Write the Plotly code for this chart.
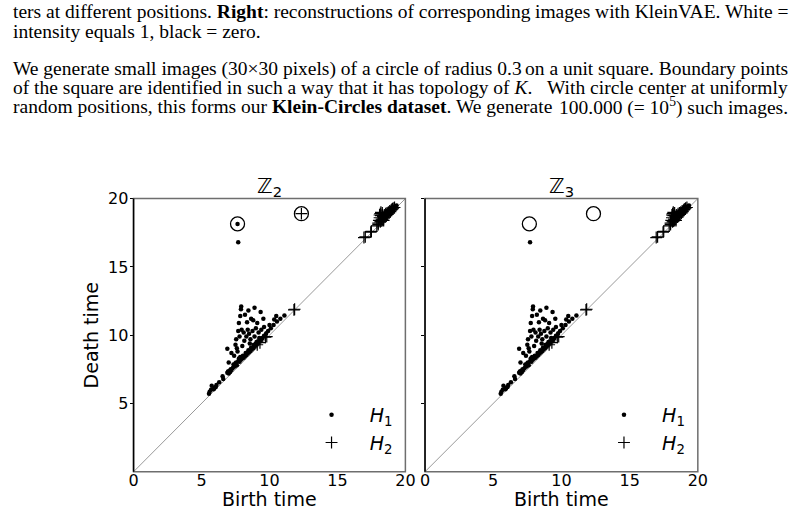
import plotly.graph_objects as go

# ---------------- data ----------------
h1_birth = [5.55,5.6,5.7,5.75,5.9,5.95,6.05,6.1,6.3,6.55,6.6,6.9,6.95,7.0,7.05,7.1,7.15,7.2,7.3,7.35,
            7.45,7.5,7.55,7.6,7.7,7.75,7.8,7.85,7.9,8.0,8.05,8.1,8.2,8.25,8.3,8.4,8.45,8.5,8.6,8.65,
            8.7,8.8,8.85,8.9,9.0,9.05,9.1,9.2,9.3,9.4,9.5,9.6,9.75,9.9,10.1,10.3,10.55,10.8,11.1,
            6.9,7.4,7.6,7.0,7.2,7.5,7.55,7.7,7.75,7.85,7.9,7.92,8.2,8.45,8.9,8.65,8.8,9.35,9.55,10.5,
            10.35,8.35,9.1,10.0,7.8,7.95,8.1,8.15,8.3,8.4,8.5,8.6,8.75,8.9,9.0,9.2,9.4,9.6,8.0,7.65,
            8.55,9.25,7.7,
            18.5,18.7,18.9,19.1,19.25,18.6,18.8,19.0,18.3,18.45,18.2,18.35,18.55,18.75,18.95,19.15,19.35,18.65,18.85,19.05]
h1_death = [5.72,5.85,6.0,6.3,6.05,6.15,6.2,6.35,6.55,7.0,6.8,7.25,7.35,7.2,7.4,7.3,7.5,7.45,7.6,7.85,
            7.7,7.95,8.0,7.8,8.1,8.3,8.05,8.4,8.2,8.3,8.5,8.35,8.45,8.7,8.55,8.65,8.9,8.75,8.85,9.1,
            8.95,9.05,9.3,9.15,9.25,9.5,9.35,9.45,9.6,9.65,9.8,9.95,10.1,10.3,10.5,10.75,11.0,11.2,11.45,
            9.0,8.5,9.05,8.0,8.7,9.3,9.7,10.3,10.9,11.4,11.9,12.1,11.5,11.8,12.0,11.2,11.1,11.7,11.2,11.4,
            11.15,10.95,10.9,10.75,9.9,10.4,10.2,9.6,9.9,10.4,10.1,9.7,10.3,9.9,10.5,10.2,10.4,10.6,9.2,8.8,
            9.4,9.8,16.8,
            18.7,18.95,19.2,19.35,19.4,18.9,19.05,19.25,18.55,18.85,18.45,18.7,18.95,19.1,19.3,19.4,19.5,18.8,19.1,19.35]

h2_birth = [9.1,9.3,9.8,9.7,11.8,11.85,16.95,17.05,17.45,17.5,18.0,18.05,18.1,18.15,18.2,18.25,18.3,18.35,
            18.4,18.45,18.5,18.55,18.6,18.65,18.7,18.75,18.8,18.85,18.9,18.95,19.0,19.05,19.1,19.2,18.2,18.3,18.4,
            18.1,18.2,18.0,18.3,18.15,17.9]
h2_death = [9.3,9.45,9.9,9.85,11.85,11.9,17.15,17.2,17.55,17.6,18.2,18.4,18.6,18.9,18.75,18.5,18.45,18.7,
            18.6,18.8,18.65,18.9,18.75,18.95,18.85,19.0,18.95,19.1,19.05,19.15,19.2,19.25,19.3,19.35,18.35,18.8,18.4,
            18.8,19.0,18.1,18.95,18.3,18.0]

# highlighted (most persistent) classes, circled in both panels
circ_birth = [7.65, 12.35]
circ_death = [18.15, 18.9]
# H1 point and H2 point present only for Z2
z2_extra_h1 = ([7.65], [18.15])
z2_extra_h2 = ([12.35], [18.9])

diag = [0, 20]
xticks = [0, 5, 10, 15, 20]
yticks = [5, 10, 15, 20]

# ---------------- figure ----------------
W, H = 804, 514
fig = go.Figure()

def px(x):
    return x / W
def py(y):
    return 1 - y / H

doms_x = [(px(131), px(408)), (px(428), px(706))]
dom_y = (py(471), py(193))

NB = '\u00a0\u00a0\u00a0'
for i in range(2):
    xa = 'x' if i == 0 else 'x2'
    ya = 'y' if i == 0 else 'y2'
    leg = 'legend' if i == 0 else 'legend2'
    fig.add_trace(go.Scatter(x=diag, y=diag, mode='lines', line=dict(color='#999999', width=1),
                             xaxis=xa, yaxis=ya, showlegend=False, hoverinfo='skip'))
    fig.add_trace(go.Scatter(x=circ_birth, y=circ_death, mode='markers',
                             marker=dict(symbol='circle-open', size=14, color='black', line=dict(width=1.3)),
                             xaxis=xa, yaxis=ya, showlegend=False))
    hb = list(h1_birth) + (z2_extra_h1[0] if i == 0 else [])
    hd = list(h1_death) + (z2_extra_h1[1] if i == 0 else [])
    fig.add_trace(go.Scatter(x=hb, y=hd, mode='markers', name=NB + '<i>H</i><sub>1</sub>',
                             marker=dict(symbol='circle', size=4.5, color='black'),
                             xaxis=xa, yaxis=ya, legend=leg))
    pb = list(h2_birth) + (z2_extra_h2[0] if i == 0 else [])
    pd_ = list(h2_death) + (z2_extra_h2[1] if i == 0 else [])
    fig.add_trace(go.Scatter(x=pb, y=pd_, mode='markers', name=NB + '<i>H</i><sub>2</sub>',
                             marker=dict(symbol='cross-thin', size=8.5, color='black',
                                         line=dict(width=1.2, color='black')),
                             xaxis=xa, yaxis=ya, legend=leg))

def axis_common(vals, standoff, ticks):
    return dict(range=[0, 20], tickvals=vals, showgrid=False, zeroline=False, showline=False,
                ticks=ticks, ticklen=3, tickcolor='black', ticklabelstandoff=standoff,
                tickfont=dict(family='DejaVu Sans', size=16, color='black'))

title_font = dict(family='DejaVu Sans', size=19, color='black')
leg_font = dict(family='DejaVu Sans', size=19, color='black')

fig.update_layout(
    width=W, height=H, margin=dict(l=0, r=0, t=0, b=0),
    plot_bgcolor='white', paper_bgcolor='white',
    xaxis=dict(domain=doms_x[0], anchor='y', **axis_common(xticks, -3, '')),
    yaxis=dict(domain=dom_y, anchor='x', **axis_common(yticks, -2, 'outside'),
               title=dict(text='Death time', font=title_font, standoff=4)),
    xaxis2=dict(domain=doms_x[1], anchor='y2', **axis_common(xticks, -3, '')),
    yaxis2=dict(domain=dom_y, anchor='x2', **axis_common(yticks, -2, 'outside'), showticklabels=False),
    legend=dict(x=px(400), y=py(461), xanchor='right', yanchor='bottom', bgcolor='rgba(0,0,0,0)',
                font=leg_font, itemwidth=30),
    legend2=dict(x=px(698), y=py(461), xanchor='right', yanchor='bottom', bgcolor='rgba(0,0,0,0)',
                 font=leg_font, itemwidth=30),
)

# frames: gray box + black left spine
for xr, yr in [('x domain', 'y domain'), ('x2 domain', 'y2 domain')]:
    fig.add_shape(type='rect', xref=xr, yref=yr, x0=0, x1=1, y0=0, y1=1,
                  line=dict(color='#6e6e6e', width=1.5), layer='above')
    fig.add_shape(type='line', xref=xr, yref=yr, x0=0, x1=0, y0=0, y1=1,
                  line=dict(color='black', width=1.5), layer='above')

# subplot titles and x-axis titles
for xd, sub in [(doms_x[0], '2'), (doms_x[1], '3')]:
    fig.add_annotation(text='\u2124<sub>' + sub + '</sub>', xref='paper', yref='paper',
                       x=(xd[0] + xd[1]) / 2, y=dom_y[1], yanchor='bottom', xanchor='center',
                       showarrow=False, yshift=-3,
                       font=dict(family='DejaVu Sans', size=21, color='black'))
    fig.add_annotation(text='Birth time', xref='paper', yref='paper',
                       x=(xd[0] + xd[1]) / 2, y=py(499), yanchor='middle', xanchor='center',
                       showarrow=False, font=title_font)

# paper text above figure
serif = dict(family='Liberation Serif', size=19.5, color='black')
lines = [
    (3, 'ters at different positions. <b>Right</b>: reconstructions of corresponding',
        'images with KleinVAE. White ='),
    (23, 'intensity equals 1, black = zero.', None),
    (61, 'We generate small images (30\u00d730 pixels) of a circle of radius 0.3',
         'on a unit square. Boundary points'),
    (80, 'of the square are identified in such a way that it has topology of <i>K</i>.',
         'With circle center at uniformly'),
    (99, 'random positions, this forms our <b>Klein-Circles dataset</b>. We generate',
         '100.000 (= 10<sup>5</sup>) such images.'),
]
for yy, left, right in lines:
    fig.add_annotation(text=left, xref='paper', yref='paper', x=px(6), y=py(yy),
                       xanchor='left', yanchor='middle', showarrow=False, font=serif)
    if right:
        fig.add_annotation(text=right, xref='paper', yref='paper', x=px(800), y=py(yy),
                           xanchor='right', yanchor='middle', showarrow=False, font=serif)

fig.write_html('out.html')
